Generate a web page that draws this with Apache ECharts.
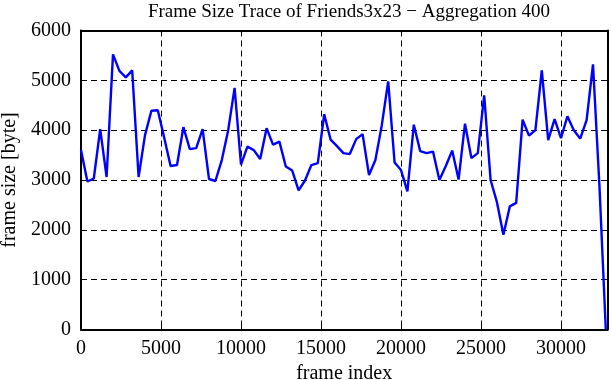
<!DOCTYPE html>
<html>
<head>
<meta charset="utf-8">
<script src="https://cdn.jsdelivr.net/npm/echarts@6/dist/echarts.min.js"></script>
<style>
  html, body { margin: 0; padding: 0; background: #fff; }
  #chart { width: 611px; height: 380px; }
</style>
</head>
<body>
<div id="chart"></div>
<script>
// aggregated frame sizes, one value every 400 frames
const STEP = 400;
const frameSizes = [
  3600, 2970, 3030, 4020, 3060, 5520, 5190, 5060, 5200, 3060,
  3900, 4390, 4400, 3850, 3280, 3300, 4060, 3620, 3640, 4020,
  3020, 2980, 3400, 4000, 4850, 3310, 3670, 3600, 3420, 4040,
  3710, 3770, 3270, 3190, 2790, 2990, 3300, 3340, 4320, 3810,
  3680, 3540, 3520, 3820, 3920, 3100, 3400, 4100, 4980, 3350,
  3200, 2770, 4110, 3580, 3540, 3570, 3000, 3280, 3590, 3010,
  4130, 3440, 3540, 4700, 3000, 2550, 1900, 2470, 2540, 4210,
  3890, 4000, 5200, 3800, 4220, 3840, 4280, 4000, 3830, 4200,
  5320, 2900, 0
];
const xMax = 32900;
const yTicks = [0, 1000, 2000, 3000, 4000, 5000, 6000];

const points = frameSizes.map((v, i) => [i * STEP, v]);

const FONT = 'Liberation Serif';
const dashed = { show: true, lineStyle: { color: '#000', width: 1, type: [6, 4] } };
const border = { show: true, onZero: false, lineStyle: { color: '#000', width: 2 } };
const tickIn = { show: true, inside: true, length: 5, lineStyle: { color: '#000', width: 1 } };
const plain = (v) => String(v);

const chart = echarts.init(document.getElementById('chart'), null, { renderer: 'canvas' });
chart.setOption({
  animation: false,
  backgroundColor: '#fff',
  title: {
    text: 'Frame Size Trace of Friends3x23 \u2212 Aggregation 400',
    left: 344,
    top: -2,
    textAlign: 'center',
    textStyle: { fontFamily: FONT, fontSize: 19, fontWeight: 'normal', color: '#000' }
  },
  grid: {
    left: 81, right: 611 - 607.4, top: 30.5, bottom: 50.5,
    containLabel: false, outerBoundsMode: 'none'
  },
  xAxis: [
    {
      type: 'value',
      min: 0,
      max: xMax,
      interval: 5000,
      name: 'frame index',
      nameLocation: 'middle',
      nameGap: 30,
      nameTextStyle: { fontFamily: FONT, fontSize: 20, color: '#000' },
      axisLine: border,
      axisTick: tickIn,
      axisLabel: { fontFamily: FONT, fontSize: 20, color: '#000', margin: 9, showMaxLabel: false, formatter: plain },
      splitLine: dashed
    },
    {
      type: 'value',
      position: 'top',
      min: 0,
      max: xMax,
      interval: 5000,
      axisLine: border,
      axisTick: tickIn,
      axisLabel: { show: false },
      splitLine: { show: false }
    }
  ],
  yAxis: [
    {
      type: 'value',
      min: yTicks[0],
      max: yTicks[yTicks.length - 1],
      interval: 1000,
      name: 'frame size [byte]',
      nameLocation: 'middle',
      nameGap: 58,
      nameTextStyle: { fontFamily: FONT, fontSize: 20, color: '#000' },
      axisLine: border,
      axisTick: tickIn,
      axisLabel: { fontFamily: FONT, fontSize: 20, color: '#000', margin: 10, formatter: plain },
      splitLine: dashed
    },
    {
      type: 'value',
      position: 'right',
      min: yTicks[0],
      max: yTicks[yTicks.length - 1],
      interval: 1000,
      axisLine: border,
      axisTick: tickIn,
      axisLabel: { show: false },
      splitLine: { show: false }
    }
  ],
  series: [
    {
      type: 'line',
      data: points,
      symbol: 'none',
      lineStyle: { color: '#0000ff', width: 2.4 },
      z: 3
    }
  ]
});
</script>
</body>
</html>
